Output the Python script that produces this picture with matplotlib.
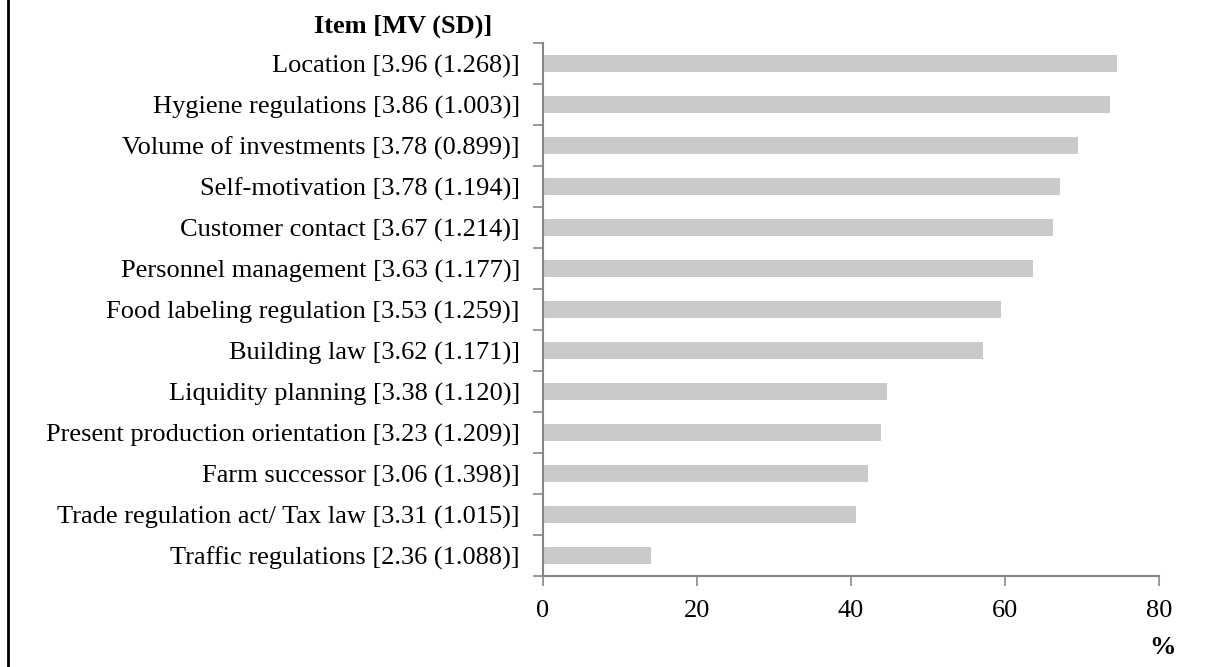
import matplotlib.pyplot as plt
import numpy as np

# data (top to bottom)
items = [
    "Location [3.96 (1.268)]",
    "Hygiene regulations [3.86 (1.003)]",
    "Volume of investments [3.78 (0.899)]",
    "Self-motivation [3.78 (1.194)]",
    "Customer contact [3.67 (1.214)]",
    "Personnel management [3.63 (1.177)]",
    "Food labeling regulation [3.53 (1.259)]",
    "Building law [3.62 (1.171)]",
    "Liquidity planning [3.38 (1.120)]",
    "Present production orientation [3.23 (1.209)]",
    "Farm successor [3.06 (1.398)]",
    "Trade regulation act/ Tax law [3.31 (1.015)]",
    "Traffic regulations [2.36 (1.088)]",
]
percent = [74.5, 73.6, 69.5, 67.1, 66.2, 63.7, 59.5, 57.1, 44.7, 43.9, 42.2, 40.6, 14.1]
x_ticks = [0, 20, 40, 60, 80]

plt.rcParams['font.family'] = ['Liberation Serif', 'DejaVu Serif']
axis_grey = '#868686'
fs = 19

fig = plt.figure(figsize=(12.09, 6.67), dpi=100)
ax = fig.add_axes([0.449, 0.1364, 0.5096, 0.7991])

y = np.arange(len(items))
ax.barh(y, percent, height=0.43, color='#cacaca')

ax.set_ylim(len(items) - 0.5, -0.5)
ax.set_xlim(0, 80)

# category labels, separator ticks between categories
ax.set_yticks(y)
ax.set_yticklabels(items, fontsize=fs)
ax.tick_params(axis='y', which='major', length=0, pad=16.5)
ax.set_yticks(np.arange(len(items) + 1) - 0.5, minor=True)
ax.tick_params(axis='y', which='minor', length=7, width=1.2, color=axis_grey, direction='out')

ax.set_xticks(x_ticks)
ax.set_xticklabels([str(t) for t in x_ticks], fontsize=fs)
ax.tick_params(axis='x', length=7, width=1.2, color=axis_grey, direction='out', pad=10)

for side in ['top', 'right']:
    ax.spines[side].set_visible(False)
for side in ['left', 'bottom']:
    ax.spines[side].set_color(axis_grey)
    ax.spines[side].set_linewidth(1.5)

fig.text(403 / 1209, 1 - 26 / 667, "Item [MV (SD)]", fontsize=fs, fontweight='bold',
         ha='center', va='center')
fig.text(1163 / 1209, 1 - 647 / 667, "%", fontsize=fs, fontweight='bold',
         ha='center', va='center')

# frame line on the left edge of the figure
fig.add_artist(plt.Line2D([8 / 1209, 8 / 1209], [0, 1], color='black', linewidth=2,
                          transform=fig.transFigure))

fig.savefig('out.png', dpi=100)
